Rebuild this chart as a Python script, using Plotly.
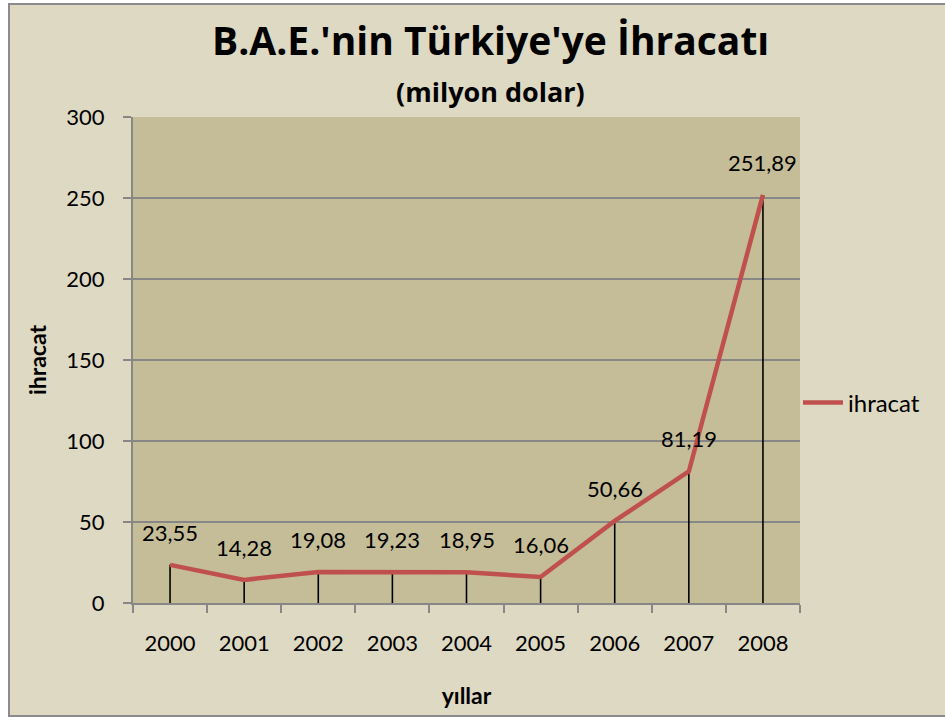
import plotly.graph_objects as go

years = ["2000", "2001", "2002", "2003", "2004", "2005", "2006", "2007", "2008"]
values = [23.55, 14.28, 19.08, 19.23, 18.95, 16.06, 50.66, 81.19, 251.89]
labels = ["23,55", "14,28", "19,08", "19,23", "18,95", "16,06", "50,66", "81,19", "251,89"]
y_ticks = [0, 50, 100, 150, 200, 250, 300]

FONT = "Lato"
TFONT = "Open Sans"
OUTER = "#DDD9C3"
INNER = "#C4BD97"
RED = "#C0504D"
GRAY = "#878787"

fig = go.Figure()

fig.add_trace(go.Scatter(
    x=years, y=values, mode="lines", name="ihracat",
    line=dict(color=RED, width=4.5),
    error_y=dict(type="data", symmetric=False, array=[0] * len(values),
                 arrayminus=values, color="black", thickness=1.6, width=0),
))

annotations = []
for i, (v, lab) in enumerate(zip(values, labels)):
    annotations.append(dict(x=i, y=v, xref="x", yref="y", text=lab, showarrow=False,
                            yanchor="bottom", xanchor="center", yshift=17,
                            font=dict(family=FONT, size=22, color="black")))

annotations += [
    dict(text="<b>B.A.E.'nin Türkiye'ye İhracatı</b>", x=0.536, y=1.0, xref="paper", yref="paper",
         yanchor="middle", yshift=(603 - 39) - 486, showarrow=False,
         font=dict(family=TFONT, size=39, color="black")),
    dict(text="<b>(milyon dolar)</b>", x=0.536, y=1.0, xref="paper", yref="paper",
         yanchor="middle", yshift=(603 - 91) - 486, showarrow=False,
         font=dict(family=TFONT, size=27, color="black")),
]

shapes = [
    # outer chart frame
    dict(type="rect", xref="paper", yref="paper",
         x0=(9 - 133) / 667, x1=(960 - 133) / 667,
         y0=(603 - 716) / 486, y1=(603 - 4) / 486,
         line=dict(color="#8C8C8C", width=2), fillcolor="rgba(0,0,0,0)", layer="above"),
    # white strips outside frame
    dict(type="rect", xref="paper", yref="paper",
         x0=(-5 - 133) / 667, x1=(8 - 133) / 667,
         y0=(603 - 730) / 486, y1=(603 + 10) / 486,
         line=dict(width=0), fillcolor="white", layer="above"),
    dict(type="rect", xref="paper", yref="paper",
         x0=(-5 - 133) / 667, x1=(960 - 133) / 667,
         y0=(603 - 3) / 486, y1=(603 + 10) / 486,
         line=dict(width=0), fillcolor="white", layer="above"),
    dict(type="rect", xref="paper", yref="paper",
         x0=(-5 - 133) / 667, x1=(960 - 133) / 667,
         y0=(603 - 730) / 486, y1=(603 - 717) / 486,
         line=dict(width=0), fillcolor="white", layer="above"),
]

fig.update_layout(
    width=945, height=720,
    margin=dict(l=133, r=145, t=117, b=117, autoexpand=False),
    paper_bgcolor=OUTER, plot_bgcolor=INNER,
    font=dict(family=FONT, size=22, color="black"),
    showlegend=True,
    legend=dict(x=(798 - 133) / 667, y=(603 - 403) / 486, xanchor="left", yanchor="middle",
                bgcolor="rgba(0,0,0,0)", font=dict(family=FONT, size=24, color="black"),
                itemwidth=40),
    annotations=annotations,
    shapes=shapes,
)

fig.update_xaxes(
    type="category", range=[-0.5, 8.5], showgrid=False,
    showline=True, linecolor=GRAY, linewidth=2,
    ticks="outside", tickson="boundaries", ticklen=8, tickcolor=GRAY, tickwidth=2,
    tickfont=dict(family=FONT, size=22), ticklabelstandoff=20,
    title=dict(text="<b>yıllar</b>", font=dict(family=FONT, size=23), standoff=32),
)
fig.update_yaxes(
    range=[0, 300], tickvals=y_ticks, ticktext=[str(t) for t in y_ticks],
    showgrid=True, gridcolor=GRAY, gridwidth=2, zeroline=False,
    showline=True, linecolor=GRAY, linewidth=2,
    ticks="outside", ticklen=8, tickcolor=GRAY, tickwidth=2,
    tickfont=dict(family=FONT, size=22), ticklabelstandoff=14,
    title=dict(text="<b>ihracat</b>", font=dict(family=FONT, size=23), standoff=13),
)

fig.write_html("out.html", config={"displayModeBar": False},
               post_script="document.body.style.margin='0';document.body.style.overflow='hidden';")
